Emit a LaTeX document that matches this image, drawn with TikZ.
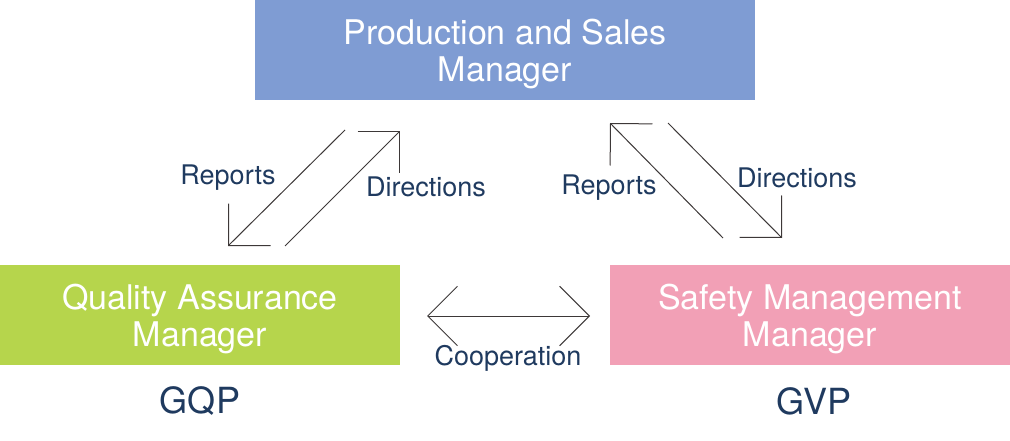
\documentclass[tikz,border=0pt]{standalone}
\usepackage{fontspec}
\setmainfont{TeX Gyre Heros}
\usepackage{xcolor}
\usetikzlibrary{positioning, arrows.meta}

\definecolor{psmblue}{HTML}{7F9CD3}
\definecolor{qagreen}{HTML}{B6D54C}
\definecolor{smpink}{HTML}{F2A0B6}
\definecolor{labelnavy}{HTML}{1F3A5F}
\definecolor{arrowgray}{HTML}{3D3838}

\begin{document}
\begin{tikzpicture}[x=1pt, y=1pt,
    rolebox/.style={minimum width=400pt, minimum height=100pt, inner sep=0pt,
      text depth=-3pt, align=center, text=white, font=\fontsize{34}{37}\selectfont},
    flowlabel/.style={text=labelnavy, font=\fontsize{27}{30}\selectfont},
    rolecode/.style={text=labelnavy, font=\fontsize{36}{40}\selectfont},
    barb/.tip={Straight Barb[angle=90:42pt, line width=1pt]},
    flow/.style={arrowgray, line width=1pt, -barb}]
        \useasboundingbox (0,0) rectangle (1010,440);

        % Boxes
        \node[rolebox, fill=psmblue, minimum width=500pt] (psm) at (505,390) {Production and Sales\\Manager};
        \node[rolebox, fill=qagreen] (qam) at (200,125) {Quality Assurance\\Manager};
        \node[rolebox, fill=smpink] (smm) at (810,125) {Safety Management\\Manager};

        \node[rolecode] (gqp) at (200,39) {GQP};
        \node[rolecode] (gvp) at (814,39) {GVP};

        % Arrow ends
        \coordinate (lrepA) at (345,310);
        \coordinate (lrepB) at (228,194);
        \coordinate (ldirA) at (285,194);
        \coordinate (ldirB) at (400,309);
        \coordinate (rrepA) at (723,202);
        \coordinate (rrepB) at (610,317);
        \coordinate (rdirA) at (668,317);
        \coordinate (rdirB) at (782,202);
        \coordinate (coopA) at (427,124);
        \coordinate (coopB) at (590,124);

        \draw[flow] (lrepA) -- (lrepB);
        \draw[flow] (ldirA) -- (ldirB);
        \draw[flow] (rrepA) -- (rrepB);
        \draw[flow] (rdirA) -- (rdirB);
        \draw[flow, barb-barb] (coopA) -- (coopB);

        % Labels
        \node[flowlabel] (lrep) at (228,262) {Reports};
        \node[flowlabel] (ldir) at (426,253) {Directions};
        \node[flowlabel] (rrep) at (609,252) {Reports};
        \node[flowlabel] (rdir) at (797,262) {Directions};
        \node[flowlabel] (coop) at (508,82) {Cooperation};
      \end{tikzpicture}
\end{document}
